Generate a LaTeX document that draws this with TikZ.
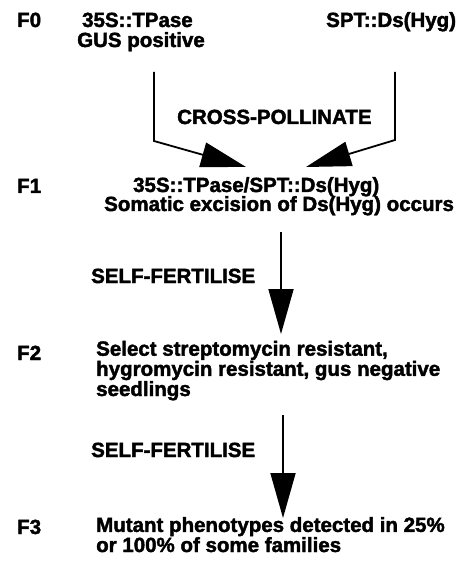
\documentclass[tikz,border=0pt]{standalone}
\usepackage{fontspec}
\newfontfamily\heavy{Liberation Sans Bold}[FakeBold=2]
\usetikzlibrary{arrows.meta}
\begin{document}
\begin{tikzpicture}[x=1pt,y=-1pt,
  lbl/.style={font=\heavy\fontsize{20.5}{18}\selectfont, inner sep=0pt, anchor=base west, align=left},
  flow/.style={line width=1.8pt, -{Triangle[length=45pt,width=25pt]}}]
\useasboundingbox[fill=white] (0,0) rectangle (471,561);
% generation labels
\node[lbl] (f0) at (17,27) {F0};
\node[lbl] (f1) at (17,193) {F1};
\node[lbl] (f2) at (17,360) {F2};
\node[lbl] (f3) at (17,534) {F3};
% F0
\node[lbl] (tp) at (82,27) {35S::TPase};
\node[lbl] (gus) at (77,47) {GUS positive};
\node[lbl] (spt) at (326,27) {SPT::Ds(Hyg)};
\node[lbl] (cross) at (177,124) {CROSS-POLLINATE};
% F1
\node[lbl] (f1a) at (133,192) {35S::TPase/SPT::Ds(Hyg)};
\node[lbl] (f1b) at (104,211) {Somatic excision of Ds(Hyg) occurs};
\node[lbl] (self1) at (91,283) {SELF-FERTILISE};
% F2 (anchor at baseline of last line)
\node[lbl] (f2t) at (96,396) {Select streptomycin resistant,\\hygromycin resistant, gus negative\\seedlings};
\node[lbl] (self2) at (91,457) {SELF-FERTILISE};
% F3
\node[lbl] (f3t) at (96,552) {Mutant phenotypes detected in 25\%\\or 100\% of some families};
% connectors
\coordinate (ls) at (154,72);
\coordinate (lb) at (154,141);
\coordinate (lt) at (246,167);
\coordinate (rs) at (395,72);
\coordinate (rb) at (395,140);
\coordinate (rt) at (306,167);
\coordinate (a1s) at (281,232);
\coordinate (a1t) at (281,334);
\coordinate (a2s) at (283,415);
\coordinate (a2t) at (283,518);
\draw[flow] (ls) -- (lb) -- (lt);
\draw[flow] (rs) -- (rb) -- (rt);
\draw[flow] (a1s) -- (a1t);
\draw[flow] (a2s) -- (a2t);
\end{tikzpicture}
\end{document}
